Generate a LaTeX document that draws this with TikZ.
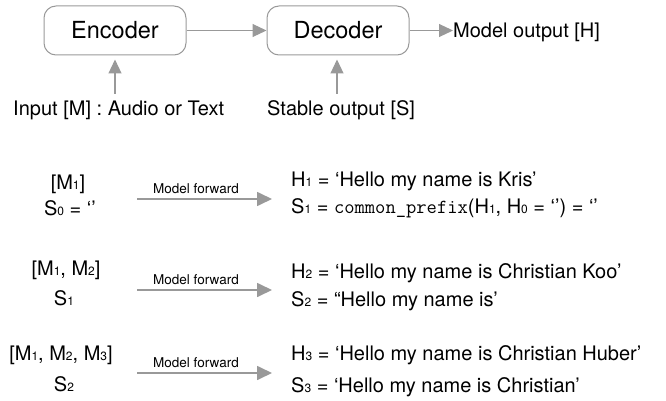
\documentclass[tikz,border=0pt]{standalone}
\usepackage{fontspec}
\setmainfont{TeX Gyre Heros}
\usetikzlibrary{arrows.meta}
\definecolor{lg}{RGB}{153,153,153}
\newcommand\sbs[1]{\raisebox{-0.6pt}{\fontsize{12}{12}\selectfont #1}}
\tikzset{
  blk/.style={draw=lg, line width=1pt, rounded corners=12pt, minimum width=142pt, minimum height=49pt, inner sep=0pt, font=\fontsize{23.5}{26}\selectfont},
  lbl/.style={inner sep=0pt, font=\fontsize{20}{24}\selectfont},
  mf/.style={inner sep=0pt, anchor=base, font=\fontsize{13.5}{16}\selectfont},
  tarr/.style={draw=lg, line width=1.1pt, -{Triangle[length=14pt,width=13pt]}},
  barr/.style={draw=lg, line width=1.7pt, -{Triangle[length=15pt,width=14pt]}},
}
\begin{document}
\begin{tikzpicture}[x=1pt,y=-1pt]
\useasboundingbox (0,0) rectangle (666,401);
% top part
\node[blk] (enc) at (115,30.5) {Encoder};
\node[blk] (dec) at (338,30.5) {Decoder};
\node[lbl, anchor=base west] (mout) at (453,37.5) {Model output [H]};
\node[lbl, anchor=base west] (inp) at (13,116) {Input [M] : Audio or Text};
\node[lbl, anchor=base west] (stab) at (267,116) {Stable output [S]};
\coordinate (inpA) at (115,94);
\coordinate (inpB) at (115,59.5);
\coordinate (stabA) at (337,94);
\coordinate (stabB) at (337,59.5);
\draw[tarr] (enc.east) -- (dec.west);
\draw[tarr] (dec.east) -- (mout.west |- dec.east);
\draw[tarr] (inpA) -- (inpB);
\draw[tarr] (stabA) -- (stabB);
% row 1
\node[lbl, anchor=base] (l1a) at (68,189) {[M\sbs{1}]};
\node[lbl, anchor=base] (l1b) at (70,215) {S\sbs{0} = ‘’};
\node[mf] (mf1) at (196,193) {Model forward};
\coordinate (a1s) at (137,199);
\coordinate (a1e) at (272,199);
\draw[barr] (a1s) -- (a1e);
\node[lbl, anchor=base west] (h1) at (291,186) {H\sbs{1} = ‘Hello my name is Kris’};
\node[lbl, anchor=base west] (s1) at (291,213) {S\sbs{1} = \texttt{common\_prefix}(H\sbs{1}, H\sbs{0} = ‘’) = ‘’};
% row 2
\node[lbl, anchor=base] (l2a) at (66,275) {[M\sbs{1}, M\sbs{2}]};
\node[lbl, anchor=base] (l2b) at (64,305) {S\sbs{1}};
\node[mf] (mf2) at (196,284) {Model forward};
\coordinate (a2s) at (137,290);
\coordinate (a2e) at (272,290);
\draw[barr] (a2s) -- (a2e);
\node[lbl, anchor=base west] (h2) at (291,278) {H\sbs{2} = ‘Hello my name is Christian Koo’};
\node[lbl, anchor=base west] (s2) at (291,306) {S\sbs{2} = “Hello my name is’};
% row 3
\node[lbl, anchor=base] (l3a) at (61,360) {[M\sbs{1}, M\sbs{2}, M\sbs{3}]};
\node[lbl, anchor=base] (l3b) at (64,391) {S\sbs{2}};
\node[mf] (mf3) at (196,367) {Model forward};
\coordinate (a3s) at (137,373);
\coordinate (a3e) at (272,373);
\draw[barr] (a3s) -- (a3e);
\node[lbl, anchor=base west] (h3) at (291,360) {H\sbs{3} = ‘Hello my name is Christian Huber’};
\node[lbl, anchor=base west] (s3) at (291,392) {S\sbs{3} = ‘Hello my name is Christian’};
\end{tikzpicture}
\end{document}
